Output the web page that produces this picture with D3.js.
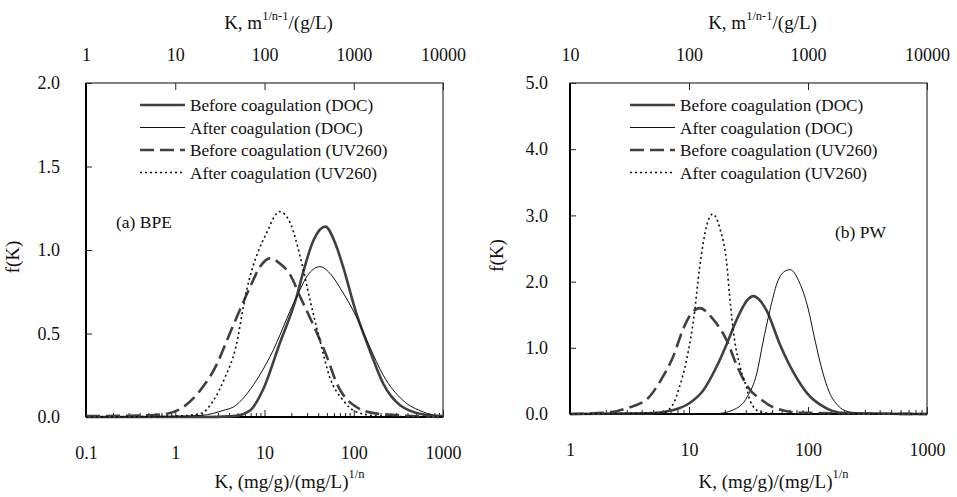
<!DOCTYPE html>
<html>
<head>
<meta charset="utf-8">
<script src="https://cdn.jsdelivr.net/npm/d3@7"></script>
<style>
  body { margin: 0; background: #fff; }
  svg, svg text { font-family: "Liberation Serif", "DejaVu Serif", serif; }
</style>
</head>
<body>
<svg id="chart" width="957" height="497"></svg>
<script>
// series names (legend order)
const seriesNames = [
  "Before coagulation (DOC)",
  "After coagulation (DOC)",
  "Before coagulation (UV260)",
  "After coagulation (UV260)"
];

// (a) BPE  -- [K, f(K)]
const bpeBeforeDoc = [[0.1,0],[2,0],[4.47,0.005],[6.92,0.04],[9.55,0.16],[14.8,0.44],[22.9,0.72],[26.9,0.86],[35.5,1.06],[47.9,1.14],[63.1,1.03],[75.9,0.9],[107,0.62],[151,0.4],[214,0.2],[331,0.07],[603,0.015],[1000,0.005]];
const bpeAfterDoc = [[0.1,0],[1,0.005],[2,0.01],[3.47,0.04],[4.47,0.06],[8.13,0.22],[11.5,0.36],[22.9,0.72],[31.6,0.86],[41.7,0.9],[56.2,0.85],[70.8,0.77],[107,0.6],[151,0.42],[214,0.25],[355,0.1],[603,0.03],[851,0.005],[1000,0]];
const bpeBeforeUv = [[0.1,0.005],[0.5,0.01],[0.81,0.02],[1.23,0.06],[1.91,0.16],[2.95,0.32],[3.8,0.46],[6.92,0.78],[8.91,0.9],[11.5,0.95],[14.8,0.92],[19.5,0.85],[25.1,0.72],[38.9,0.5],[50.1,0.36],[64.6,0.2],[107,0.06],[182,0.02],[1000,0]];
const bpeAfterUv = [[0.1,0],[1,0.005],[1.91,0.02],[2.69,0.1],[3.63,0.24],[4.68,0.4],[6.31,0.76],[10.7,1.11],[14.8,1.23],[19.5,1.16],[25.1,0.96],[32.4,0.7],[41.7,0.46],[53.7,0.24],[75.9,0.1],[107,0.03],[200,0.005],[1000,0]];

// (b) PW  -- [K, f(K)]
const pwBeforeDoc = [[1,0],[4.68,0.01],[7.41,0.06],[10.2,0.17],[13.2,0.36],[17,0.71],[20.9,1.07],[25.1,1.42],[30.9,1.72],[34.7,1.78],[44.7,1.57],[57.5,1.07],[75.9,0.62],[97.7,0.32],[135,0.11],[186,0.02],[1000,0]];
const pwAfterDoc = [[1,0],[17,0.005],[23.4,0.06],[30.9,0.26],[37.2,0.62],[41.7,1.07],[47.9,1.57],[55,1.98],[63.1,2.15],[70.8,2.18],[85.1,1.98],[100,1.6],[115,1.1],[132,0.65],[151,0.33],[178,0.13],[224,0.03],[316,0],[1000,0]];
const pwBeforeUv = [[1,0],[2.04,0.02],[3.02,0.09],[4.47,0.23],[5.75,0.5],[7.41,0.88],[8.91,1.28],[10.5,1.52],[12.3,1.6],[15.8,1.44],[20.9,1.1],[25.1,0.74],[30.9,0.42],[41.7,0.2],[51.3,0.1],[85.1,0.02],[1000,0]];
const pwAfterUv = [[1,0],[6.03,0.02],[7.41,0.16],[8.32,0.41],[9.55,0.82],[11,1.47],[12.3,2.22],[14.1,2.85],[15.8,3.02],[18.2,2.8],[20.9,2.22],[21.9,1.8],[24,1.15],[26.9,0.71],[30.9,0.36],[32.4,0.21],[39.8,0.03],[63.1,0],[1000,0]];

// axis ticks
const bpeBottomTicks = [0.1, 1, 10, 100, 1000];
const bpeTopTicks = [1, 10, 100, 1000, 10000];
const bpeYTicks = [0, 0.5, 1.0, 1.5, 2.0];
const pwBottomTicks = [1, 10, 100, 1000];
const pwTopTicks = [10, 100, 1000, 10000];
const pwYTicks = [0, 1, 2, 3, 4, 5];

const styles = [
  { stroke: "#404040", width: 2.6, dash: null },
  { stroke: "#111", width: 1, dash: null },
  { stroke: "#404040", width: 2.6, dash: "14,6" },
  { stroke: "#111", width: 1.6, dash: "2,3" }
];

const FONT = "'Liberation Serif', 'DejaVu Serif', serif";
const svg = d3.select("#chart");

const panels = [
  { x0: 86, x1: 443, yTop: 83, yBot: 417, xDom: [0.1, 1000], topDom: [1, 10000], yMax: 2,
    bottomTicks: bpeBottomTicks, topTicks: bpeTopTicks, yTicks: bpeYTicks,
    series: [bpeBeforeDoc, bpeAfterDoc, bpeBeforeUv, bpeAfterUv],
    label: "(a) BPE", labelX: 116, labelY: 222, legX: 140, yPad: 26 },
  { x0: 570, x1: 927, yTop: 83, yBot: 414, xDom: [1, 1000], topDom: [10, 10000], yMax: 5,
    bottomTicks: pwBottomTicks, topTicks: pwTopTicks, yTicks: pwYTicks,
    series: [pwBeforeDoc, pwAfterDoc, pwBeforeUv, pwAfterUv],
    label: "(b) PW", labelX: 835, labelY: 232, legX: 630, yPad: 22 }
];

panels.forEach(function(p) {
  let g = svg.append("g");
  let x = d3.scaleLog().domain(p.xDom).range([p.x0, p.x1]);
  let xt = d3.scaleLog().domain(p.topDom).range([p.x0, p.x1]);
  let y = d3.scaleLinear().domain([0, p.yMax]).range([p.yBot, p.yTop]);

  // minor ticks on bottom axis
  let minor = [];
  let lo = Math.log10(p.xDom[0]), hi = Math.log10(p.xDom[1]);
  for (let e = lo; e < hi; e++) {
    for (let m = 2; m <= 9; m++) minor.push(m * Math.pow(10, e));
  }
  g.append("g")
    .attr("transform", "translate(0," + p.yBot + ")")
    .call(d3.axisBottom(x).tickValues(minor).tickSize(-4).tickFormat(""))
    .call(a => a.select(".domain").remove());

  let bottom = g.append("g")
    .attr("transform", "translate(0," + p.yBot + ")")
    .call(d3.axisBottom(x).tickValues(p.bottomTicks).tickSize(-7).tickPadding(29)
      .tickFormat(d => d3.format("~g")(d)));
  bottom.select(".domain").remove();

  let top = g.append("g")
    .attr("transform", "translate(0," + p.yTop + ")")
    .call(d3.axisTop(xt).tickValues(p.topTicks).tickSize(-7).tickPadding(22)
      .tickFormat(d => String(d)));
  top.select(".domain").remove();

  let left = g.append("g")
    .attr("transform", "translate(" + p.x0 + ",0)")
    .call(d3.axisLeft(y).tickValues(p.yTicks).tickSize(-6).tickPadding(p.yPad)
      .tickFormat(d3.format(".1f")));
  left.select(".domain").remove();

  g.selectAll("g").attr("font-family", FONT);
  g.selectAll(".tick line").attr("stroke", "#222");
  g.selectAll(".tick text")
    .attr("font-size", 18)
    .attr("fill", "#111")
    .attr("font-family", FONT);

  // frame
  g.append("rect")
    .attr("x", p.x0).attr("y", p.yTop)
    .attr("width", p.x1 - p.x0).attr("height", p.yBot - p.yTop)
    .attr("fill", "none").attr("stroke", "#333").attr("stroke-width", 1.2);
  g.append("line")
    .attr("x1", p.x0).attr("x2", p.x0).attr("y1", p.yTop).attr("y2", p.yBot)
    .attr("stroke", "#000").attr("stroke-width", 2);
  g.append("line")
    .attr("x1", p.x0).attr("x2", p.x1).attr("y1", p.yBot).attr("y2", p.yBot)
    .attr("stroke", "#000").attr("stroke-width", 2);

  // curves
  let line = d3.line()
    .x(d => x(d[0]))
    .y(d => y(d[1]))
    .curve(d3.curveMonotoneX);
  p.series.forEach(function(s, i) {
    g.append("path")
      .datum(s)
      .attr("d", line)
      .attr("fill", "none")
      .attr("stroke", styles[i].stroke)
      .attr("stroke-width", styles[i].width)
      .attr("stroke-dasharray", styles[i].dash);
  });

  // legend
  seriesNames.forEach(function(name, i) {
    let ly = 105 + i * 22.5;
    g.append("line")
      .attr("x1", p.legX).attr("x2", p.legX + 45)
      .attr("y1", ly).attr("y2", ly)
      .attr("stroke", styles[i].stroke)
      .attr("stroke-width", styles[i].width)
      .attr("stroke-dasharray", styles[i].dash);
    g.append("text")
      .attr("x", p.legX + 50).attr("y", ly + 6)
      .attr("font-size", 17.2)
      .attr("font-family", FONT)
      .attr("fill", "#111")
      .text(name);
  });

  g.append("text")
    .attr("x", p.labelX).attr("y", p.labelY + 6)
    .attr("font-size", 17.5)
    .attr("font-family", FONT)
    .attr("fill", "#111")
    .text(p.label);

  let cx = (p.x0 + p.x1) / 2;

  // top title
  let tt = g.append("text")
    .attr("x", cx + 14).attr("y", 29)
    .attr("text-anchor", "middle")
    .attr("font-size", 19)
    .attr("font-family", FONT)
    .attr("fill", "#111");
  tt.append("tspan").text("K, m");
  tt.append("tspan").attr("dy", -9).attr("font-size", 12.5).text("1/n-1");
  tt.append("tspan").attr("dy", 9).text("/(g/L)");

  // bottom title
  let bt = g.append("text")
    .attr("x", cx + 25).attr("y", 488)
    .attr("text-anchor", "middle")
    .attr("font-size", 19)
    .attr("font-family", FONT)
    .attr("fill", "#111");
  bt.append("tspan").text("K, (mg/g)/(mg/L)");
  bt.append("tspan").attr("dy", -10).attr("font-size", 12.5).text("1/n");

  // y title
  g.append("text")
    .attr("transform", "translate(" + (p.x0 - 67) + "," + ((p.yTop + p.yBot) / 2 + 7) + ") rotate(-90)")
    .attr("text-anchor", "middle")
    .attr("font-size", 19)
    .attr("font-family", FONT)
    .attr("fill", "#111")
    .text("f(K)");
});
</script>
</body>
</html>
